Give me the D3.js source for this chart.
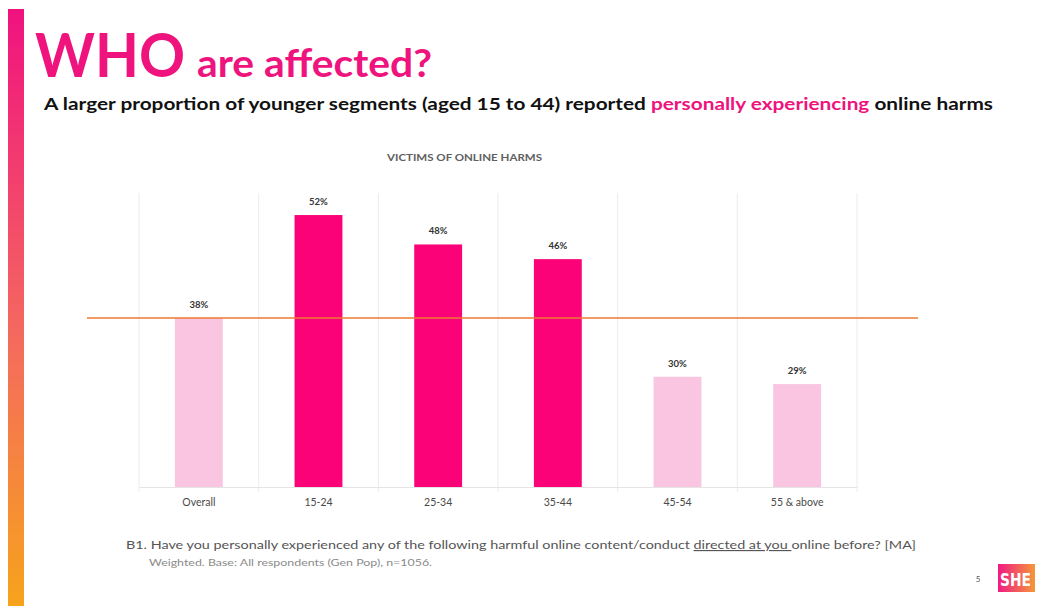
<!DOCTYPE html>
<html>
<head>
<meta charset="utf-8">
<script src="https://cdn.jsdelivr.net/npm/d3@7"></script>
<style>
  html, body { margin: 0; padding: 0; background: #fff; }
  svg { display: block; }
</style>
</head>
<body>
<script>
// Victims of online harms, by age segment
const categories = ["Overall", "15-24", "25-34", "35-44", "45-54", "55 & above"];
const values = [38, 52, 48, 46, 30, 29];
const highlight = [false, true, true, true, false, false];
const overallValue = 38;
const valueDomain = [15, 55];

const W = 1037, H = 606;
const svg = d3.select("body").append("svg").attr("width", W).attr("height", H);

const defs = svg.append("defs");
const vg = defs.append("linearGradient").attr("id", "sideBar").attr("x1", 0).attr("y1", 0).attr("x2", 0).attr("y2", 1);
vg.append("stop").attr("offset", "0%").attr("stop-color", "#f0127f");
vg.append("stop").attr("offset", "55%").attr("stop-color", "#f46a5e");
vg.append("stop").attr("offset", "100%").attr("stop-color", "#f7a31c");
const hg = defs.append("linearGradient").attr("id", "logoGrad").attr("x1", 0).attr("y1", 0).attr("x2", 1).attr("y2", 0);
hg.append("stop").attr("offset", "0%").attr("stop-color", "#ef1b82");
hg.append("stop").attr("offset", "100%").attr("stop-color", "#f6973a");

// Side accent bar
svg.append("rect").attr("x", 8).attr("y", 9).attr("width", 16).attr("height", H - 9).attr("fill", "url(#sideBar)");

// Headline
const headFont = "Lato, 'Open Sans', sans-serif";
svg.append("text").attr("x", 35).attr("y", 77)
  .attr("font-family", headFont).attr("font-weight", 700).attr("fill", "#ee137d")
  .attr("font-size", 62).attr("textLength", 150).attr("lengthAdjust", "spacingAndGlyphs").text("WHO");
svg.append("text").attr("x", 197).attr("y", 77)
  .attr("font-family", headFont).attr("font-weight", 700).attr("fill", "#ee137d")
  .attr("font-size", 39).attr("textLength", 235).attr("lengthAdjust", "spacingAndGlyphs").text("are affected?");

// Subtitle with highlighted phrase
const sub = svg.append("text").attr("x", 44).attr("y", 110)
  .attr("font-family", headFont).attr("font-weight", 700).attr("font-size", 17.5).attr("fill", "#111")
  .attr("textLength", 949).attr("lengthAdjust", "spacingAndGlyphs");
sub.append("tspan").text("A larger proportion of younger segments (aged 15 to 44) reported ");
sub.append("tspan").attr("fill", "#ee137d").text("personally experiencing");
sub.append("tspan").text(" online harms");

// Chart area
const plot = { left: 139, right: 857, top: 193, bottom: 487 };

const x = d3.scaleBand().domain(categories).range([plot.left, plot.right]).paddingInner(0.6).paddingOuter(0.3);
const xCell = d3.scaleBand().domain(categories).range([plot.left, plot.right]).padding(0);
const y = d3.scaleLinear().domain(valueDomain).range([plot.bottom, plot.top]);

// Chart title
svg.append("text").attr("x", 387).attr("y", 161)
  .attr("font-family", "Lato, sans-serif").attr("font-size", 9).attr("font-weight", 700)
  .attr("fill", "#606060").attr("textLength", 155).attr("lengthAdjust", "spacingAndGlyphs")
  .text("VICTIMS OF ONLINE HARMS");

// Category separators
const seps = d3.range(categories.length + 1).map(i => plot.left + i * xCell.step());
svg.append("g").selectAll("line").data(seps).join("line")
  .attr("x1", d => d).attr("x2", d => d).attr("y1", plot.top).attr("y2", plot.bottom + 5)
  .attr("stroke", "#ececec").attr("stroke-width", 1);

// Baseline axis
const axis = svg.append("g").attr("transform", `translate(0,${plot.bottom})`)
  .call(d3.axisBottom(x).tickSize(0).tickPadding(12));
axis.select(".domain").attr("stroke", "#e4e4e4");
axis.selectAll("text").attr("font-family", "Lato, sans-serif").attr("font-size", 10.5).attr("fill", "#4a4a4a");

// Bars
svg.append("g").selectAll("rect").data(categories).join("rect")
  .attr("x", d => x(d)).attr("width", x.bandwidth())
  .attr("y", (d, i) => y(values[i])).attr("height", (d, i) => plot.bottom - y(values[i]))
  .attr("fill", (d, i) => highlight[i] ? "#fc0279" : "#f9c5e0");

// Value labels
svg.append("g").selectAll("text").data(categories).join("text")
  .attr("x", d => x(d) + x.bandwidth() / 2)
  .attr("y", (d, i) => y(values[i]) - 10)
  .attr("text-anchor", "middle").attr("font-family", "Lato, sans-serif").attr("font-size", 9.5)
  .attr("font-weight", 700).attr("fill", "#333").text((d, i) => values[i] + "%");

// Overall reference line
svg.append("line").attr("x1", 87).attr("x2", 918)
  .attr("y1", y(overallValue)).attr("y2", y(overallValue))
  .attr("stroke", "#ee7a30").attr("stroke-width", 1.6);

// Footnotes
const q = svg.append("text").attr("x", 126).attr("y", 549)
  .attr("font-family", "Lato, sans-serif").attr("font-size", 11.5).attr("fill", "#555")
  .attr("textLength", 790).attr("lengthAdjust", "spacingAndGlyphs");
q.append("tspan").text("B1. Have you personally experienced any of the following harmful online content/conduct ");
q.append("tspan").attr("text-decoration", "underline").text("directed at you ");
q.append("tspan").text("online before? [MA]");

svg.append("text").attr("x", 149).attr("y", 566)
  .attr("font-family", "Lato, sans-serif").attr("font-size", 9.5).attr("fill", "#8a8a8a")
  .attr("textLength", 283).attr("lengthAdjust", "spacingAndGlyphs")
  .text("Weighted. Base: All respondents (Gen Pop), n=1056.");

// Page number and logo
svg.append("text").attr("x", 978).attr("y", 582).attr("text-anchor", "middle")
  .attr("font-family", "Lato, sans-serif").attr("font-size", 8).attr("fill", "#555").text("5");
svg.append("rect").attr("x", 998).attr("y", 564).attr("width", 37).attr("height", 28).attr("fill", "url(#logoGrad)");
svg.append("text").attr("x", 1000).attr("y", 586)
  .attr("font-family", "'DejaVu Sans Condensed', 'Liberation Sans', sans-serif").attr("font-weight", 700)
  .attr("font-size", 17).attr("fill", "#fff").attr("textLength", 31).attr("lengthAdjust", "spacingAndGlyphs").text("SHE");
</script>
</body>
</html>
